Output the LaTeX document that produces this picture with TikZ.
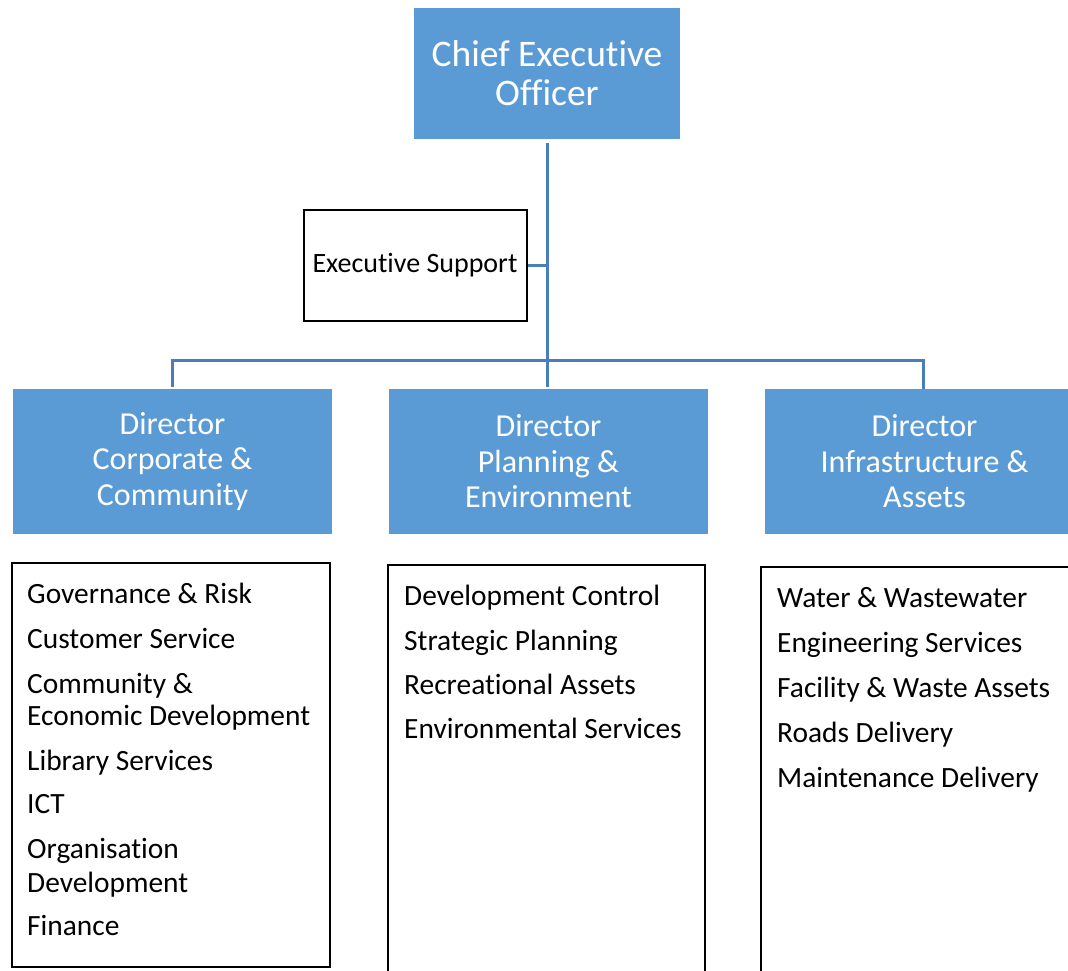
\documentclass[tikz,border=0pt]{standalone}
\usepackage{fontspec}
\setmainfont{Carlito}[Ligatures=NoCommon]
\definecolor{boxblue}{RGB}{91,155,213}
\definecolor{linkblue}{RGB}{74,126,187}
\begin{document}
\begin{tikzpicture}[x=1pt,y=-1pt,
  headbox/.style={rectangle, fill=boxblue, draw=none, text=white, align=center, inner sep=0pt},
  dirbox/.style={headbox, minimum width=319pt, minimum height=145pt, font=\fontsize{32}{35.5}\selectfont},
  listbox/.style={rectangle, draw=black, line width=2pt, inner sep=0pt, minimum width=318pt},
  item/.style={anchor=base west, inner sep=0pt, font=\fontsize{29.4}{32}\selectfont},
  link/.style={draw=linkblue, line width=3pt}]
\useasboundingbox (0,0) rectangle (1068,971);

% top of the chart
\node[headbox, minimum width=266pt, minimum height=131pt, font=\fontsize{37.5}{39}\selectfont]
  (ceo) at (547,73.5) {Chief Executive\\Officer};
\node[rectangle, draw=black, line width=2pt, minimum width=223pt, minimum height=111pt,
  inner sep=0pt, font=\fontsize{28}{30}\selectfont] (exec) at (415,265) {Executive Support};

% directors
\node[dirbox] (dirA) at (172.5,461.5) {Director\\Corporate \&\\Community};
\node[dirbox] (dirB) at (548.5,461.5) {Director\\Planning \&\\Environment};
\node[dirbox] (dirC) at (924.5,461.5) {Director\\Infrastructure \&\\Assets};

% service lists
\node[listbox, minimum height=404pt] (listA) at (170.5,765) {};
\node[listbox, minimum width=317pt, minimum height=430pt] (listB) at (546.5,780) {};
\node[listbox, minimum height=430pt] (listC) at (920,782) {};

\node[item] (a1) at (27,603) {Governance \& Risk};
\node[item] (a2) at (27,648) {Customer Service};
\node[item] (a3) at (27,693) {Community \&};
\node[item] (a4) at (27,725) {Economic Development};
\node[item] (a5) at (27,770) {Library Services};
\node[item] (a6) at (27,813) {ICT};
\node[item] (a7) at (27,858) {Organisation};
\node[item] (a8) at (27,892) {Development};
\node[item] (a9) at (27,935) {Finance};

\node[item] (b1) at (404,605) {Development Control};
\node[item] (b2) at (404,650) {Strategic Planning};
\node[item] (b3) at (404,694) {Recreational Assets};
\node[item] (b4) at (404,738) {Environmental Services};

\node[item] (c1) at (777,607) {Water \& Wastewater};
\node[item] (c2) at (777,652) {Engineering Services};
\node[item] (c3) at (777,697) {Facility \& Waste Assets};
\node[item] (c4) at (777,742) {Roads Delivery};
\node[item] (c5) at (777,787) {Maintenance Delivery};

% reporting lines
\coordinate (bus) at (547,360);
\draw[link, shorten <=4pt] (ceo.south) -- (bus);
\draw[link, shorten >=2pt] (bus) -- (bus |- dirB.north);
\draw[link] (exec.east) -- (exec.east -| bus);
\draw[link, shorten <=2pt] (dirA.north) |- (bus) -| ([xshift=-1.5pt]dirC.north);
\end{tikzpicture}
\end{document}
